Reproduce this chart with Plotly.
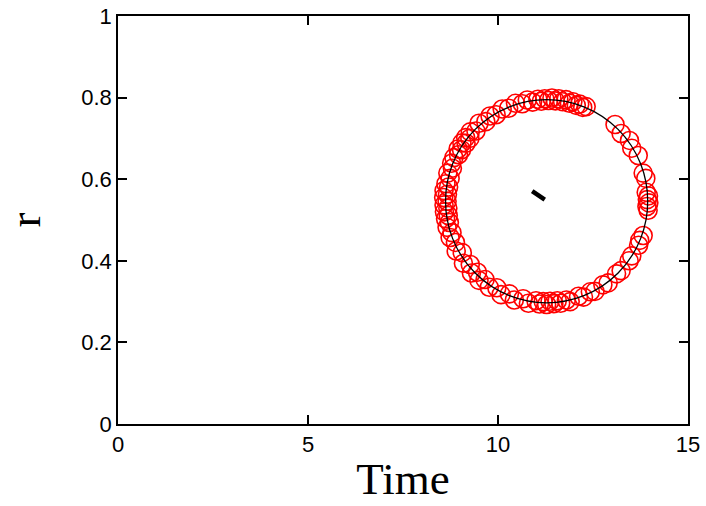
import plotly.graph_objects as go

# Observed marker positions (Time, r)
time_pts = [12.32, 12.23, 12.15, 12.06, 11.97, 11.88, 11.79, 11.70, 11.60, 11.51, 11.42, 11.33,
            11.23, 11.14, 11.05, 10.91, 10.77, 10.64, 10.46, 10.28, 10.11, 9.95, 9.79, 9.68,
            9.50, 9.42, 9.27, 9.26, 9.15, 9.16, 9.05, 9.04, 8.95, 8.96, 8.84,
            8.78, 8.80, 8.68, 8.74, 8.63, 8.70, 8.58, 8.67, 8.57, 8.66, 8.58, 8.68, 8.59,
            8.69, 8.62, 8.72, 8.66, 8.79, 8.74, 8.88,
            8.90, 9.06, 9.09, 9.27, 9.30, 9.46, 9.50, 9.66, 9.77, 9.97, 10.08, 10.30, 10.43,
            10.66, 10.80,
            11.00, 11.09, 11.19, 11.28, 11.37, 11.47, 11.56, 11.65,
            11.80, 11.90, 12.12, 12.25, 12.43, 12.55, 12.76, 12.90, 13.12, 13.24, 13.45, 13.52,
            13.70, 13.73, 13.82,
            13.95, 13.92, 13.97, 13.93, 13.96, 13.90, 13.89, 13.82,
            13.69, 13.52, 13.46, 13.24, 13.08]
r_pts = [0.778, 0.776, 0.784, 0.781, 0.790, 0.786, 0.795, 0.790, 0.797, 0.792, 0.799, 0.793,
         0.797, 0.791, 0.796, 0.789, 0.794, 0.785, 0.786, 0.774, 0.772, 0.758, 0.755, 0.741,
         0.737, 0.718, 0.716, 0.700, 0.702, 0.688, 0.689, 0.672, 0.674, 0.660, 0.653,
         0.639, 0.627, 0.615, 0.602, 0.589, 0.581, 0.572, 0.563, 0.555, 0.546, 0.537, 0.529, 0.520,
         0.511, 0.503, 0.494, 0.482, 0.469, 0.457, 0.445,
         0.424, 0.420, 0.394, 0.391, 0.370, 0.372, 0.352, 0.354, 0.335, 0.334, 0.317, 0.319, 0.304,
         0.307, 0.296,
         0.302, 0.294, 0.300, 0.293, 0.301, 0.295, 0.302, 0.296,
         0.304, 0.300, 0.313, 0.311, 0.324, 0.325, 0.341, 0.346, 0.368, 0.376, 0.400, 0.412,
         0.438, 0.450, 0.462,
         0.524, 0.533, 0.542, 0.550, 0.559, 0.568, 0.602, 0.615,
         0.658, 0.676, 0.695, 0.712, 0.734]

# Fitted circle (black line)
circle_time_min, circle_time_max = 8.62, 13.94
circle_r_min, circle_r_max = 0.297, 0.795

# Small black arrow near the centre
arrow_time = [10.90, 11.23]
arrow_r = [0.571, 0.550]

x_ticks = [0, 5, 10, 15]
y_ticks = [0, 0.2, 0.4, 0.6, 0.8, 1]
y_tick_text = ["0", "0.2", "0.4", "0.6", "0.8", "1"]

fig = go.Figure()
fig.add_trace(go.Scatter(
    x=time_pts, y=r_pts, mode="markers",
    marker=dict(symbol="circle-open", size=18, color="#ff0000", line=dict(width=1.6, color="#ff0000")),
    showlegend=False, hoverinfo="skip"))
fig.add_trace(go.Scatter(
    x=arrow_time, y=arrow_r, mode="lines",
    line=dict(color="black", width=4.5), showlegend=False))
fig.add_shape(type="circle", xref="x", yref="y",
              x0=circle_time_min, x1=circle_time_max, y0=circle_r_min, y1=circle_r_max,
              line=dict(color="black", width=1.3), layer="above")

axis_common = dict(showgrid=False, zeroline=False, showline=True, linecolor="black", linewidth=1.5,
                   mirror="ticks", ticks="inside", ticklen=9, tickwidth=1.5, tickcolor="black",
                   tickfont=dict(family="Liberation Sans, Arial, sans-serif", size=22, color="black"),
                   automargin=False)

serif = "Liberation Serif, Times New Roman, serif"
fig.update_layout(
    width=706, height=506,
    margin=dict(l=118, r=18, t=16, b=82),
    paper_bgcolor="white", plot_bgcolor="white",
    xaxis=dict(range=[0, 15], tickvals=x_ticks, ticktext=[str(v) for v in x_ticks],
               title=dict(text="Time", font=dict(family=serif, size=45, color="black"), standoff=6),
               **axis_common),
    yaxis=dict(range=[0, 1], tickvals=y_ticks, ticktext=y_tick_text,
               title=dict(text="r", font=dict(family=serif, size=45, color="black"), standoff=40),
               **axis_common),
)

fig.write_html("out.html", config={"displayModeBar": False},
               post_script="document.body.style.margin='0';document.body.style.overflow='hidden';")
